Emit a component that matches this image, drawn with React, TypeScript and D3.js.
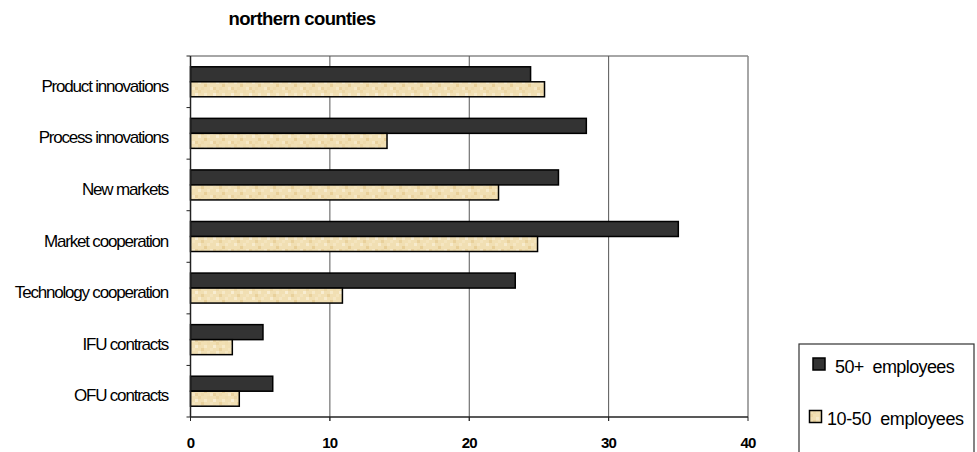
import React from "react";
import * as d3 from "d3";

const categories = [
  "Product innovations",
  "Process innovations",
  "New markets",
  "Market cooperation",
  "Technology cooperation",
  "IFU contracts",
  "OFU contracts",
];
const series50plus = [24.4, 28.4, 26.4, 35.0, 23.3, 5.2, 5.9];
const series10to50 = [25.4, 14.1, 22.1, 24.9, 10.9, 3.0, 3.5];
const xTicks = [0, 10, 20, 30, 40];
const seriesNames = ["50+  employees", "10-50  employees"];

const W = 977;
const H = 452;
const plot = { left: 190.5, right: 748, top: 56, bottom: 417 };

export default function App() {
  const x = d3.scaleLinear().domain([0, 40]).range([plot.left, plot.right]);
  const y = d3.scaleBand<string>().domain(categories).range([plot.top, plot.bottom]).paddingInner(0).paddingOuter(0);
  const bw = y.bandwidth();
  const barH = 15;
  const inner = (bw - 2 * barH) / 2;
  const font = "'Liberation Sans', Arial, sans-serif";

  const texture: [number, number, string][] = [
    [0, 0, "#ecd6a4"], [6, 3, "#f6e9c8"], [3, 6, "#e9d19c"], [9, 9, "#f5e6c2"],
    [9, 0, "#efdcae"], [0, 9, "#f7ebcd"], [6, 12, "#e8cf98"], [12, 6, "#f4e4bd"],
    [15, 15, "#ead29f"], [12, 15, "#f6e8c6"], [3, 15, "#eedaab"], [15, 3, "#f8edd2"],
  ];

  return (
    <svg width={W} height={H} style={{ position: "absolute", left: 0, top: 0, background: "#fff" }}>
      <defs>
        <pattern id="beige" patternUnits="userSpaceOnUse" width={18} height={18}>
          <rect width={18} height={18} fill="#f1dfb3" />
          {texture.map(([px, py, c], i) => (
            <rect key={i} x={px} y={py} width={3} height={3} fill={c} />
          ))}
        </pattern>
      </defs>
      <text x={302} y={25} textAnchor="middle" fontFamily={font} fontWeight="bold" fontSize={18.5} letterSpacing={-0.6}>
        northern counties
      </text>
      {/* plot frame (top/right gray) */}
      <line x1={plot.left} x2={plot.right} y1={plot.top} y2={plot.top} stroke="#888" strokeWidth={1.5} />
      <line x1={plot.right} x2={plot.right} y1={plot.top} y2={plot.bottom} stroke="#888" strokeWidth={1.5} />
      {/* gridlines */}
      {xTicks.slice(1, -1).map((t) => (
        <line key={t} x1={x(t)} x2={x(t)} y1={plot.top} y2={plot.bottom + 4} stroke="#555" strokeWidth={1} />
      ))}
      {/* bars */}
      {categories.map((c, i) => {
        const y0 = (y(c) as number) + inner;
        return (
          <g key={c}>
            <rect x={x(0)} y={y0} width={x(series50plus[i]) - x(0)} height={barH} fill="#333333" stroke="#000" strokeWidth={1.5} />
            <rect x={x(0)} y={y0 + barH} width={x(series10to50[i]) - x(0)} height={barH} fill="url(#beige)" stroke="#000" strokeWidth={1.5} />
          </g>
        );
      })}
      {/* axes */}
      <line x1={plot.left} x2={plot.left} y1={plot.top} y2={plot.bottom} stroke="#222" strokeWidth={1.5} />
      <line x1={plot.left} x2={plot.right} y1={plot.bottom} y2={plot.bottom} stroke="#222" strokeWidth={1.5} />
      {categories.map((c) => (
        <line key={"t" + c} x1={plot.left - 4} x2={plot.left} y1={y(c) as number} y2={y(c) as number} stroke="#222" />
      ))}
      <line x1={plot.left - 4} x2={plot.left} y1={plot.bottom} y2={plot.bottom} stroke="#222" />
      {xTicks.map((t) => (
        <g key={"x" + t}>
          <line x1={x(t)} x2={x(t)} y1={plot.bottom} y2={plot.bottom + 4} stroke="#222" />
          <text x={x(t)} y={448} textAnchor="middle" fontFamily={font} fontWeight="bold" fontSize={15} letterSpacing={-0.8}>
            {t}
          </text>
        </g>
      ))}
      {categories.map((c) => (
        <text key={"l" + c} x={168} y={(y(c) as number) + bw / 2 + 10} textAnchor="end" fontFamily={font} fontSize={17} letterSpacing={-1.2}>
          {c}
        </text>
      ))}
      {/* legend */}
      <rect x={799} y={344} width={175} height={120} fill="#fff" stroke="#333" strokeWidth={1.2} />
      <rect x={813} y={358} width={12} height={12} fill="#333333" stroke="#000" strokeWidth={1.5} />
      <text x={835} y={373} fontFamily={font} fontSize={18} letterSpacing={-0.6} style={{ whiteSpace: "pre" }}>
        {seriesNames[0]}
      </text>
      <rect x={809.5} y={410.5} width={12} height={12} fill="url(#beige)" stroke="#000" strokeWidth={1.5} />
      <text x={827} y={425} fontFamily={font} fontSize={18} letterSpacing={-0.4} style={{ whiteSpace: "pre" }}>
        {seriesNames[1]}
      </text>
    </svg>
  );
}
